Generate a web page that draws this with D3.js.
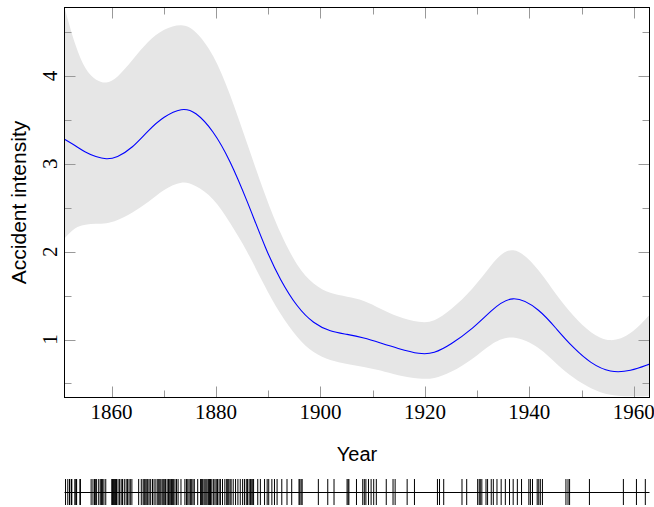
<!doctype html>
<html lang="en">
<head>
  <meta charset="utf-8">
  <title>Accident intensity</title>
  <style>
    html, body { margin: 0; padding: 0; background: #fff; }
    svg { display: block; }
  </style>
</head>
<body>
  <div id="vis"></div>
  <script src="https://cdn.jsdelivr.net/npm/d3@7"></script>
  <script>
    // Data ----------------------------------------------------------------------------------------
    const years = [1851, 1853, 1855, 1857, 1859, 1861, 1864, 1867, 1870, 1873.5, 1876, 1879.5, 1882.7,
      1885.9, 1889.7, 1892.3, 1895.5, 1898.7, 1901.9, 1905.1, 1908.3, 1911.5, 1914.7, 1919.1, 1921.7,
      1924.9, 1929.3, 1932.5, 1936.7, 1942.1, 1945.3, 1948.5, 1951.7, 1955.5, 1959.4, 1963];
    const intensity = [3.28, 3.21, 3.13, 3.08, 3.05, 3.07, 3.18, 3.38, 3.54, 3.64, 3.60, 3.38, 3.04,
      2.59, 2.00, 1.68, 1.37, 1.18, 1.09, 1.06, 1.02, 0.96, 0.90, 0.83, 0.84,
      0.94, 1.13, 1.32, 1.53, 1.34, 1.11, 0.90, 0.73, 0.62, 0.64, 0.72];
    const upperBand = [4.78, 4.35, 4.06, 3.95, 3.91, 3.97, 4.18, 4.40, 4.54, 4.60, 4.53, 4.26, 3.80,
      3.24, 2.59, 2.21, 1.83, 1.62, 1.52, 1.49, 1.45, 1.35, 1.26, 1.19, 1.20,
      1.33, 1.58, 1.84, 2.12, 1.78, 1.49, 1.26, 1.07, 0.96, 1.05, 1.28];
    const lowerBand = [2.15, 2.28, 2.31, 2.32, 2.32, 2.35, 2.44, 2.56, 2.71, 2.81, 2.76, 2.62, 2.33,
      2.02, 1.56, 1.29, 1.02, 0.84, 0.76, 0.72, 0.69, 0.65, 0.59, 0.55, 0.55,
      0.62, 0.78, 0.95, 1.07, 0.91, 0.71, 0.56, 0.44, 0.36, 0.35, 0.36];

    const accidentDates = [
      1851.20, 1851.63, 1851.97, 1851.98,
      1852.31, 1852.35, 1852.36, 1852.38, 1852.98,
      1853.20, 1853.23, 1853.32, 1853.95, 1854.05,
      1856.10, 1856.45, 1856.75, 1856.90, 1857.15, 1857.55, 1857.85,
      1858.10, 1858.30, 1858.55, 1858.90,
      1860.05, 1860.20, 1860.40, 1860.55, 1860.75, 1860.95,
      1861.25, 1861.55, 1861.85, 1862.10, 1862.45, 1862.80,
      1863.05, 1863.35, 1863.60, 1863.90,
      1865.20, 1865.70,
      1866.05, 1866.25, 1866.40, 1866.60, 1866.80, 1866.95,
      1867.20, 1867.50, 1867.85, 1868.15, 1868.50, 1868.85,
      1869.05, 1869.25, 1869.45, 1869.70, 1869.90,
      1870.10, 1870.35, 1870.65, 1870.90,
      1871.05, 1871.25, 1871.50, 1871.70, 1871.90,
      1872.15, 1872.45, 1872.75, 1873.30,
      1874.05, 1874.35, 1874.60, 1874.85, 1875.10, 1875.35, 1875.60, 1875.85, 1876.50,
      1877.05, 1877.25, 1877.45, 1877.70, 1877.90,
      1878.10, 1878.30, 1878.55, 1878.75, 1878.95,
      1879.20, 1879.50, 1879.80, 1880.05, 1880.30, 1880.60, 1880.85,
      1881.25, 1881.70, 1882.05, 1882.25, 1882.45, 1882.70, 1882.90,
      1883.30, 1883.75, 1884.20, 1884.65, 1885.10, 1885.45, 1885.80,
      1886.05, 1886.35, 1886.60, 1886.85, 1887.05, 1887.20,
      1888.00, 1888.50, 1889.30, 1889.80, 1890.10, 1890.70, 1891.20, 1891.70,
      1892.60, 1893.60, 1894.50, 1895.90, 1896.05, 1896.30, 1896.50,
      1899.60, 1901.40, 1902.60,
      1905.10, 1905.30, 1905.45, 1906.90,
      1908.10, 1908.40, 1908.70, 1909.20, 1909.70, 1910.20, 1910.70,
      1912.60, 1913.90, 1914.30, 1916.60, 1918.00,
      1922.40, 1922.80, 1923.60, 1927.10, 1928.00,
      1930.10, 1930.40, 1930.60, 1930.90, 1931.70, 1932.00, 1932.70, 1933.10, 1933.80,
      1934.60, 1935.40, 1936.20, 1936.90, 1937.70, 1938.50, 1939.90, 1940.20, 1940.60,
      1941.50, 1941.80, 1942.10, 1942.50,
      1947.00, 1947.40, 1947.70, 1951.50, 1958.00, 1960.50, 1962.20
    ];

    const xMajorTicks = [1860, 1880, 1900, 1920, 1940, 1960];
    const xMinorTicks = [1870, 1890, 1910, 1930, 1950];
    const yMajorTicks = [1, 2, 3, 4];
    const yMinorTicks = [0.5, 1.5, 2.5, 3.5, 4.5];

    // Canvas --------------------------------------------------------------------------------------
    const width = 654;
    const height = 507;
    const plot = { left: 64.5, right: 649.5, top: 7.5, bottom: 397.5 };
    const serif = "'Liberation Serif', 'DejaVu Serif', serif";
    const sans = "'Liberation Sans', Arial, sans-serif";

    const svg = d3.select("#vis")
      .append("svg")
      .attr("width", width)
      .attr("height", height)
      .attr("viewBox", [0, 0, width, height]);

    const x = d3.scaleLinear().domain([1851, 1963]).range([plot.left, plot.right]);
    const y = d3.scaleLinear().domain([0.34, 4.78]).range([plot.bottom, plot.top]);

    svg.append("defs")
      .append("clipPath")
      .attr("id", "plot-clip")
      .append("rect")
      .attr("x", plot.left)
      .attr("y", plot.top)
      .attr("width", plot.right - plot.left)
      .attr("height", plot.bottom - plot.top);

    const rows = years.map((yr, i) => ({ year: yr, mid: intensity[i], hi: upperBand[i], lo: lowerBand[i] }));

    // Band and mean curve -------------------------------------------------------------------------
    const inner = svg.append("g").attr("clip-path", "url(#plot-clip)");

    inner.append("path")
      .datum(rows)
      .attr("fill", "#e6e6e6")
      .attr("d", d3.area()
        .x(d => x(d.year))
        .y0(d => y(d.lo))
        .y1(d => y(d.hi))
        .curve(d3.curveBasis));

    inner.append("path")
      .datum(rows)
      .attr("fill", "none")
      .attr("stroke", "#0000ff")
      .attr("stroke-width", 1.1)
      .attr("d", d3.line()
        .x(d => x(d.year))
        .y(d => y(d.mid))
        .curve(d3.curveBasis));

    // Ticks on all four sides, pointing inward ----------------------------------------------------
    const tickColor = "#999";
    const drawX = (vals, len) => {
      [[plot.bottom, -len], [plot.top, len]].forEach(([y0, dy]) => {
        svg.append("g").selectAll("line").data(vals).join("line")
          .attr("x1", d => Math.round(x(d)) + 0.5).attr("x2", d => Math.round(x(d)) + 0.5)
          .attr("y1", y0).attr("y2", y0 + dy)
          .attr("stroke", tickColor).attr("stroke-width", 1);
      });
    };
    const drawY = (vals, len) => {
      [[plot.left, len], [plot.right, -len]].forEach(([x0, dx]) => {
        svg.append("g").selectAll("line").data(vals).join("line")
          .attr("y1", d => Math.round(y(d)) + 0.5).attr("y2", d => Math.round(y(d)) + 0.5)
          .attr("x1", x0).attr("x2", x0 + dx)
          .attr("stroke", tickColor).attr("stroke-width", 1);
      });
    };
    drawX(xMajorTicks, 11);
    drawX(xMinorTicks, 7);
    drawY(yMajorTicks, 11);
    drawY(yMinorTicks.filter(v => v > 0.34 && v < 4.78), 7);

    // Frame ---------------------------------------------------------------------------------------
    svg.append("rect")
      .attr("x", plot.left)
      .attr("y", plot.top)
      .attr("width", plot.right - plot.left)
      .attr("height", plot.bottom - plot.top)
      .attr("fill", "none")
      .attr("stroke", "#000")
      .attr("stroke-width", 1);

    // Tick labels ---------------------------------------------------------------------------------
    svg.append("g").selectAll("text").data(xMajorTicks).join("text")
      .attr("x", d => x(d))
      .attr("y", 419)
      .attr("text-anchor", "middle")
      .style("font-family", serif)
      .style("font-size", "21px")
      .text(d => d);

    svg.append("g").selectAll("text").data(yMajorTicks).join("text")
      .attr("transform", d => "translate(57," + y(d) + ") rotate(-90)")
      .attr("text-anchor", "middle")
      .style("font-family", serif)
      .style("font-size", "21px")
      .text(d => d);

    // Axis titles ---------------------------------------------------------------------------------
    svg.append("text")
      .attr("x", (plot.left + plot.right) / 2)
      .attr("y", 461)
      .attr("text-anchor", "middle")
      .style("font-family", sans)
      .style("font-size", "20px")
      .text("Year");

    svg.append("text")
      .attr("transform", "translate(26," + (plot.top + plot.bottom) / 2 + ") rotate(-90)")
      .attr("text-anchor", "middle")
      .style("font-family", sans)
      .style("font-size", "21px")
      .text("Accident intensity");

    // Rug of accident dates -----------------------------------------------------------------------
    const rug = svg.append("g");
    rug.append("line")
      .attr("x1", plot.left).attr("x2", plot.right)
      .attr("y1", 492.5).attr("y2", 492.5)
      .attr("stroke", "#000").attr("stroke-width", 1);

    rug.selectAll("line.event").data(accidentDates).join("line")
      .attr("class", "event")
      .attr("x1", d => x(d)).attr("x2", d => x(d))
      .attr("y1", 479).attr("y2", 505)
      .attr("stroke", "#000").attr("stroke-width", 1);
  </script>
</body>
</html>
